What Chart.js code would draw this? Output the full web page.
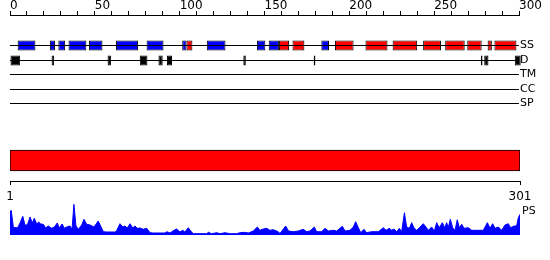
<!DOCTYPE html>
<html lang="en">
<head>
    <meta charset="UTF-8">
    <title>Sequence feature plot</title>
    <script src="https://cdn.jsdelivr.net/npm/chart.js"></script>
    <style>
        body { margin: 0; background: #fff; }
        .wrap { position: relative; width: 550px; height: 260px; }
        .wrap canvas { position: absolute; left: 0; }
    </style>
</head>
<body>
<div class="wrap">
    <canvas id="tracks" width="550" height="115" style="top:0"></canvas>
    <canvas id="seqbar" width="550" height="65" style="top:140px"></canvas>
    <canvas id="psplot" width="550" height="40" style="top:200px"></canvas>
</div>

<script>
// track names on the right, and the vertical slot each one sits in
const trackNames = ['SS', 'D', 'TM', 'CC', 'SP'];
const trackRows = [30.5, 45.5, 59.5, 74.5, 88.5];

// secondary structure segments (residue start, end)
const ssBlue = [[4.5, 15], [23.5, 26.5], [28.5, 32.5], [34.5, 45], [46.5, 54.5], [62.5, 75.5],
    [80.5, 90.5], [101.5, 104], [116, 127], [145.5, 150.5], [152.5, 158.5], [183.5, 188]];
const ssRed = [[104, 107.5], [158.5, 164.5], [166.5, 173.5], [191.5, 202.5], [209.5, 222.5],
    [225.5, 240], [243.5, 254], [256.5, 268], [269.5, 278], [281.5, 284], [285.5, 298.5]];
// disordered segments
const disorder = [[0, 6], [24.5, 26], [57.5, 59.5], [76.5, 81], [87.5, 90], [92.5, 95.5],
    [137.5, 139], [179, 180], [277.5, 278.5], [279.5, 282], [297.5, 301]];

// whole sequence bar + axis ends
const seqStart = 1;
const seqEnd = 301;

// PS profile
const psPos = [1, 1.7, 3, 5.5, 6.9, 8.5, 9.8, 11.2, 12.8, 14.1,
    15.3, 16.7, 17.9, 19, 20.6, 22, 23.5, 25.5, 27.1, 28.8,
    30, 31.6, 33, 34.3, 36.3, 37.5, 38.6, 39.8, 41.2, 43.2,
    44.5, 46.1, 48.1, 50.4, 52.9, 54.3, 55.9, 58, 63, 63.8,
    65.7, 67.3, 68.6, 70, 71.6, 73.2, 74.5, 75.9, 77.5, 79.4,
    81.4, 83.4, 85.3, 92.2, 93.2, 95.1, 97.5, 99, 101, 102.6,
    103.9, 105.9, 107.3, 108.8, 116.7, 117.7, 119.6, 122.6, 124.5, 127.5,
    130.4, 134.3, 136.3, 139.2, 141.2, 144.1, 146.5, 148, 150, 152,
    153.9, 155.9, 158.8, 159.8, 163.2, 164.8, 167.7, 170.6, 173.5, 175.5,
    177.5, 180, 181.4, 184.3, 186.3, 188.3, 191.2, 193.2, 196.5, 198.1,
    201, 203, 204.3, 205.9, 207.3, 209.2, 210.8, 213.7, 217.7, 220.6,
    222.2, 224.1, 225.5, 226.9, 228.5, 230, 231.4, 233, 234.3, 235.9,
    237.3, 238.6, 240.2, 241.8, 244.1, 245.7, 247.1, 249, 250.6, 252,
    253.5, 255.3, 256.7, 257.9, 258.8, 260, 261.4, 262.8, 264.1, 265.3,
    266.7, 268.1, 270.6, 272.6, 277.5, 279.4, 281.8, 283.4, 284.9, 286.3,
    288.3, 290.2, 292.2, 294.1, 295.5, 297.5, 299, 300, 301];
const psVal = [23, 24.7, 7.5, 7.3, 12, 18.7, 10, 10, 18, 12,
    16.7, 11, 13, 11, 10.7, 7, 9, 6.7, 8, 12,
    7, 11, 6.7, 8, 9, 5.7, 30.7, 9, 5.7, 10,
    15.7, 10.7, 10, 8, 14, 9, 3.3, 3, 3, 4.7,
    11.3, 8, 9, 7, 11.3, 7, 9, 6.7, 7, 5.7,
    6.7, 2.3, 2, 2, 3.3, 2, 4.7, 6, 3, 4.7,
    3, 7.3, 4, 1.3, 1.3, 2.7, 1.3, 2.3, 1.3, 2.3,
    1.3, 1.3, 2.3, 2.7, 2, 4, 8, 4.7, 6, 6.7,
    4.7, 5.3, 3.3, 1.5, 9, 4, 3.3, 4, 5.7, 3.3,
    4, 8, 3.3, 3.3, 6.7, 4, 4.7, 4, 8.7, 4,
    4.7, 8, 13.3, 7.3, 2.3, 5.7, 2.3, 3.3, 3.3, 7.3,
    4.7, 6.7, 4.7, 6, 3.3, 6.7, 3.3, 22.3, 8, 6.7,
    12.3, 7.3, 4.7, 7.3, 11.3, 8, 4.7, 8, 4, 12.3,
    7.3, 12.3, 7.3, 12.3, 7.3, 15.7, 7.3, 4.7, 15.3, 7.3,
    10.7, 6.7, 7.3, 4.7, 4.7, 4.7, 12.3, 6.7, 11.3, 6.7,
    8, 4.7, 10, 11.3, 7.3, 9, 9, 17.3, 20.7];

const font = { family: 'DejaVu Sans', size: 12, lineHeight: 1 };
const labelFont = { family: 'DejaVu Sans', size: 11, lineHeight: 1 };
const noUi = { legend: { display: false }, tooltip: { enabled: false } };

// stop axis labels from pushing the plot area inwards
function noPad(s) {
    s.paddingTop = 0; s.paddingBottom = 0; s.paddingLeft = 0; s.paddingRight = 0;
}

// backbone line for each track
const backbone = trackRows.map(row => ({
    type: 'line',
    data: [{ x: 0, y: row }, { x: 300, y: row }],
    borderColor: '#000', borderWidth: 1, pointRadius: 0, fill: false
}));

function segBars(segs, row, color, thick) {
    return {
        data: segs.map(s => ({ x: s, y: row })),
        backgroundColor: color, borderColor: '#000', borderWidth: 1,
        borderSkipped: false, grouped: false, maxBarThickness: thick, clip: 4
    };
}

new Chart(document.getElementById('tracks'), {
    type: 'bar',
    data: {
        datasets: [
            ...backbone,
            segBars(ssBlue, trackRows[0], '#0000ff', 11),
            segBars(ssRed, trackRows[0], '#ff0000', 11),
            segBars(disorder, trackRows[1], '#000000', 11)
        ]
    },
    options: {
        indexAxis: 'y', responsive: false, animation: false, events: [],
        layout: { padding: { left: 10, bottom: 5 } },
        plugins: noUi,
        scales: {
            x: {
                type: 'linear', position: 'top', min: 0, max: 300,
                ticks: {
                    stepSize: 10, autoSkip: false, maxRotation: 0, align: 'start', padding: -1,
                    color: '#000', font: font,
                    callback: v => (v % 50 === 0 ? String(v) : '')
                },
                grid: { drawOnChartArea: false, tickLength: 4, color: '#000' },
                border: { color: '#000' },
                afterFit: s => { s.height = 15; noPad(s); }
            },
            y: {
                type: 'linear', position: 'right', reverse: true, min: 0, max: 95, offset: false,
                grid: { display: false, drawTicks: false, tickLength: 0 }, border: { display: false },
                afterBuildTicks: s => { s.ticks = trackRows.map(v => ({ value: v })); },
                ticks: { padding: 1, color: '#000', font: labelFont,
                    callback: v => trackNames[trackRows.indexOf(v)] },
                afterFit: s => { s.width = 31; noPad(s); }
            }
        }
    }
});

new Chart(document.getElementById('seqbar'), {
    type: 'bar',
    data: {
        datasets: [{
            data: [{ x: [seqStart, seqEnd], y: 1 }],
            backgroundColor: '#ff0000', borderColor: '#000', borderWidth: 1,
            borderSkipped: false, barThickness: 21
        }]
    },
    options: {
        indexAxis: 'y', responsive: false, animation: false, events: [],
        layout: { padding: { left: 10, right: 30 } },
        plugins: noUi,
        scales: {
            x: {
                type: 'linear', min: seqStart, max: seqEnd,
                afterBuildTicks: s => { s.ticks = [{ value: seqStart }, { value: seqEnd }]; },
                ticks: { maxRotation: 0, color: '#000', font: font, padding: 6 },
                grid: { drawOnChartArea: false, tickLength: 4, color: '#000' },
                border: { color: '#000' },
                afterFit: s => { s.height = 24; noPad(s); }
            },
            y: { type: 'linear', min: 0, max: 2, offset: false, display: false }
        }
    }
});

new Chart(document.getElementById('psplot'), {
    type: 'line',
    data: {
        datasets: [{
            data: psPos.map((p, i) => ({ x: p, y: psVal[i] })),
            borderColor: '#0000ff', backgroundColor: '#0000ff', borderWidth: 1,
            pointRadius: 0, fill: 'origin', tension: 0
        }]
    },
    options: {
        responsive: false, animation: false, events: [],
        layout: { padding: { left: 10, bottom: 5 } },
        plugins: noUi,
        scales: {
            x: { type: 'linear', min: seqStart, max: seqEnd, display: false },
            y: {
                type: 'linear', position: 'right', min: 0, max: 35,
                grid: { display: false, drawTicks: false, tickLength: 0 }, border: { display: false },
                afterBuildTicks: s => { s.ticks = [{ value: 24 }]; },
                ticks: { padding: 2, color: '#000', font: labelFont, callback: () => 'PS' },
                afterFit: s => { s.width = 30; noPad(s); }
            }
        }
    }
});
</script>
</body>
</html>
